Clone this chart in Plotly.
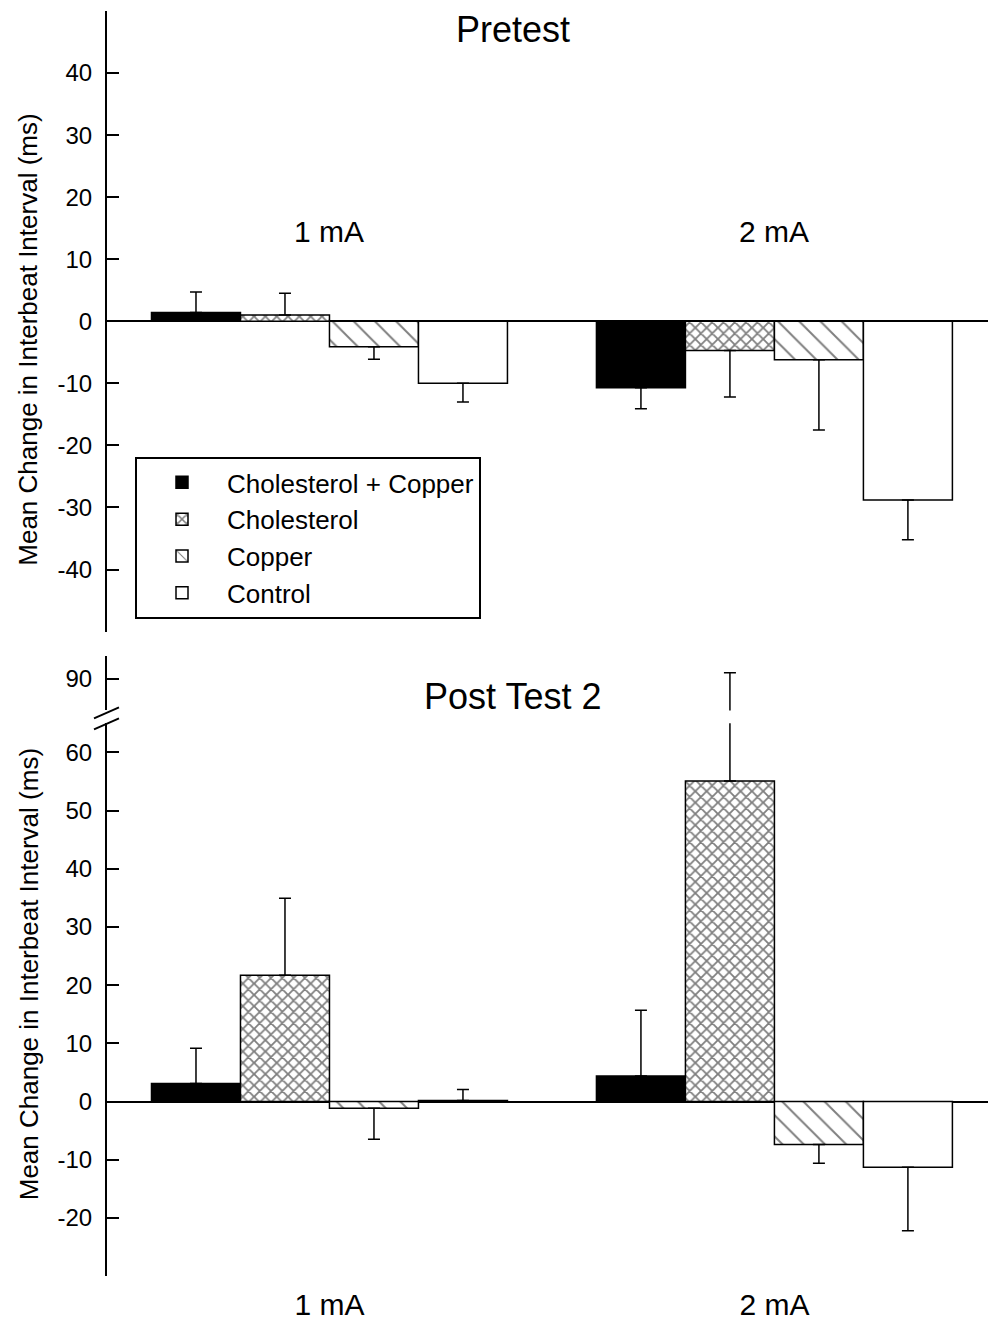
import plotly.graph_objects as go

# ---------------- data ----------------
categories = ["1 mA", "2 mA"]
series_names = ["Cholesterol + Copper", "Cholesterol", "Copper", "Control"]

# Pretest means and SEM
pre_chol_copper = [1.4, -10.7]
pre_cholesterol = [1.0, -4.7]
pre_copper = [-4.1, -6.2]
pre_control = [-10.0, -28.8]
pre_chol_copper_err = [3.3, 3.4]
pre_cholesterol_err = [3.5, 7.5]
pre_copper_err = [2.0, 11.3]
pre_control_err = [3.0, 6.4]

# Post Test 2 means and SEM
post_chol_copper = [3.1, 4.4]
post_cholesterol = [21.7, 55.1]
post_copper = [-1.15, -7.4]
post_control = [0.2, -11.3]
post_chol_copper_err = [6.05, 11.3]
post_cholesterol_err = [13.25, 36.0]
post_copper_err = [5.35, 3.2]
post_control_err = [1.85, 10.9]

top_ticks = [-40, -30, -20, -10, 0, 10, 20, 30, 40]
bottom_ticks = [-20, -10, 0, 10, 20, 30, 40, 50, 60]
upper_ticks = [90]

pre = [pre_chol_copper, pre_cholesterol, pre_copper, pre_control]
pre_err = [pre_chol_copper_err, pre_cholesterol_err, pre_copper_err, pre_control_err]
post = [post_chol_copper, post_cholesterol, post_copper, post_control]
post_err = [post_chol_copper_err, post_cholesterol_err, post_copper_err, post_control_err]

# ---------------- styles ----------------
FONT = "Liberation Sans, Arial, sans-serif"
W, H = 989, 1321
ML, MR = 107, 1
PW = W - ML - MR


def px_x(p):
    return (p - ML) / PW


def px_y(p):
    return 1 - p / H


markers = [
    dict(color="black", line=dict(color="black", width=1.5)),
    dict(color="white", line=dict(color="black", width=1.5),
         pattern=dict(shape="x", fgcolor="black", bgcolor="white", size=8, solidity=0.4)),
    dict(color="white", line=dict(color="black", width=1.5),
         pattern=dict(shape="\\", fgcolor="black", bgcolor="white", size=15, solidity=0.13)),
    dict(color="white", line=dict(color="black", width=1.5)),
]


def err_dict(vals, errs):
    up = [e if v >= 0 else 0 for v, e in zip(vals, errs)]
    down = [e if v < 0 else 0 for v, e in zip(vals, errs)]
    return dict(type="data", symmetric=False, array=up, arrayminus=down,
                color="black", thickness=1.5, width=6)


def tick_text(vals):
    return [str(v) for v in vals]


fig = go.Figure()

for i, name in enumerate(series_names):
    fig.add_trace(go.Bar(x=categories, y=pre[i], name=name, marker=markers[i],
                         error_y=err_dict(pre[i], pre_err[i]),
                         xaxis="x", yaxis="y", legendgroup=name, showlegend=True))
for i, name in enumerate(series_names):
    fig.add_trace(go.Bar(x=categories, y=post[i], name=name, marker=markers[i],
                         error_y=err_dict(post[i], post_err[i]),
                         xaxis="x2", yaxis="y2", legendgroup=name, showlegend=False))
for i, name in enumerate(series_names):
    fig.add_trace(go.Bar(x=categories, y=post[i], name=name, marker=markers[i],
                         error_y=err_dict(post[i], post_err[i]),
                         xaxis="x3", yaxis="y3", legendgroup=name, showlegend=False))

xrange = [-0.5, 1.48]
yaxis_common = dict(showline=True, linecolor="black", linewidth=2, ticks="inside",
                    ticklen=12, tickwidth=2, tickcolor="black", showgrid=False,
                    tickfont=dict(family=FONT, size=24, color="black"),
                    ticklabelstandoff=8)

fig.update_layout(
    width=W, height=H,
    margin=dict(l=ML, r=MR, t=0, b=0),
    paper_bgcolor="white", plot_bgcolor="white",
    barmode="group", bargap=0.2, bargroupgap=0,
    font=dict(family=FONT, color="black"),
    xaxis=dict(domain=[0, 1], range=xrange, anchor="y", showline=False, showticklabels=False,
               ticks="", showgrid=False, zeroline=False),
    xaxis2=dict(domain=[0, 1], range=xrange, anchor="y2", showline=False, ticks="",
                showgrid=False, zeroline=False,
                tickfont=dict(family=FONT, size=30, color="black"), ticklabelstandoff=8),
    xaxis3=dict(domain=[0, 1], range=xrange, anchor="y3", showline=False, showticklabels=False,
                ticks="", showgrid=False, zeroline=False),
    yaxis=dict(domain=[px_y(633), px_y(11)], range=[-50, 50], anchor="x",
               tickvals=top_ticks, ticktext=tick_text(top_ticks),
               zeroline=True, zerolinecolor="black", zerolinewidth=2, **yaxis_common),
    yaxis2=dict(domain=[px_y(1279), px_y(725)], range=[-30, 65], anchor="x2",
                tickvals=bottom_ticks, ticktext=tick_text(bottom_ticks),
                zeroline=True, zerolinecolor="black", zerolinewidth=2, **yaxis_common),
    yaxis3=dict(domain=[px_y(712), px_y(657.3)], range=[84.6, 94], anchor="x3",
                tickvals=upper_ticks, ticktext=tick_text(upper_ticks),
                zeroline=False, **yaxis_common),
    legend=dict(x=px_x(135), y=px_y(458), xanchor="left", yanchor="top",
                bordercolor="black", borderwidth=2, bgcolor="white",
                font=dict(family=FONT, size=26, color="black"), itemwidth=80,
                traceorder="normal"),
)

ann_font = dict(family=FONT, color="black")
annotations = [
    dict(text="Pretest", x=px_x(513), y=px_y(30), xref="paper", yref="paper",
         showarrow=False, font=dict(size=36, **ann_font), xanchor="center", yanchor="middle"),
    dict(text="Post Test 2", x=px_x(512), y=px_y(698), xref="paper", yref="paper",
         showarrow=False, font=dict(size=36, **ann_font), xanchor="center", yanchor="middle"),
    dict(text="Mean Change in Interbeat Interval (ms)", x=px_x(28.5), y=px_y(341),
         xref="paper", yref="paper", textangle=-90, showarrow=False,
         font=dict(size=26, **ann_font), xanchor="center", yanchor="middle"),
    dict(text="Mean Change in Interbeat Interval (ms)", x=px_x(28.5), y=px_y(977),
         xref="paper", yref="paper", textangle=-90, showarrow=False,
         font=dict(size=26, **ann_font), xanchor="center", yanchor="middle"),
]
for c in categories:
    annotations.append(dict(text=c, x=c, y=14.5, xref="x", yref="y", showarrow=False,
                            font=dict(size=30, **ann_font), xanchor="center", yanchor="middle"))
fig.update_layout(annotations=annotations)

# axis break marks
for (y0p, y1p) in [(720, 709), (731, 720)]:
    fig.add_shape(type="line", xref="paper", yref="paper",
                  x0=px_x(94), y0=px_y(y0p), x1=px_x(119), y1=px_y(y1p),
                  line=dict(color="black", width=2))

fig.write_html("out.html")
